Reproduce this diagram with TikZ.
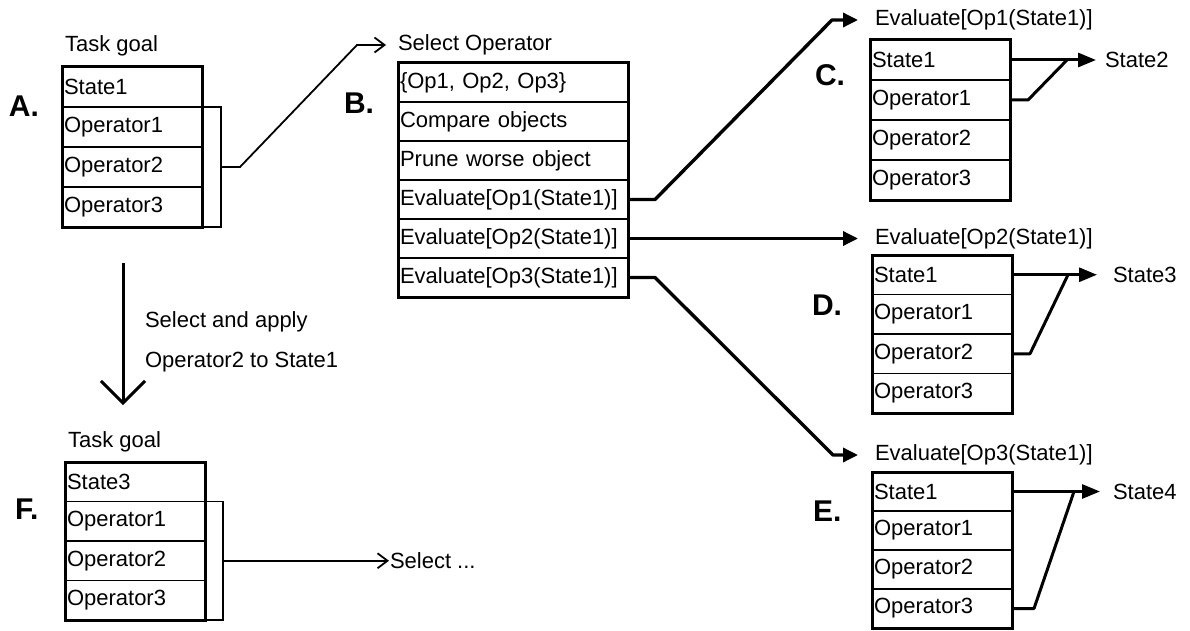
\documentclass[tikz,border=0pt]{standalone}
\usepackage{fontspec}
\setmainfont{Liberation Sans}
\usetikzlibrary{arrows.meta,calc}
\newcommand{\rf}{\fontsize{22}{26}\selectfont}
\newcommand{\lf}{\fontsize{30}{34}\selectfont\bfseries}
\begin{document}
\begin{tikzpicture}[x=1pt,y=-1pt,
  rowbox/.style={draw, line width=1.8pt, anchor=north west, minimum height=#1,
    inner xsep=2pt, inner ysep=0pt, outer sep=0pt, font=\rf, align=left, text width=136pt},
  widerow/.style={rowbox=#1, text width=226pt},
  outer/.style={line width=3pt},
  bracket/.style={line width=1.3pt},
  txt/.style={anchor=west, inner sep=0pt, outer sep=0pt, font=\rf},
  lab/.style={anchor=west, inner sep=0pt, outer sep=0pt, font=\lf},
  thinarrow/.style={line width=1.8pt, -{Straight Barb[length=10pt,width=15pt,line width=1.8pt]}},
  thickarrow/.style={line width=3.4pt, line join=round, -{Triangle[length=15pt,width=14pt]}},
  statearrow/.style={line width=3pt, -{Triangle[length=18pt,width=14pt]}},
  joinline/.style={line width=3pt, line join=round},
  bigarrow/.style={line width=3pt, -{Straight Barb[length=22pt,width=44pt,line width=3pt]}}]
\useasboundingbox (0,0) rectangle (1190,631);

% ---------- A ----------
\node[txt] (ta) at (65,46) {Task goal};
\node[lab] (la) at (9,106) {A.};
\node[rowbox=40pt] (a1) at (62,67) {State1};
\node[rowbox=40pt] (a2) at (a1.south west) {Operator1};
\node[rowbox=40pt] (a3) at (a2.south west) {Operator2};
\node[rowbox=40pt] (a4) at (a3.south west) {Operator3};
\draw[outer] (a1.north west) rectangle (a4.south east);
\draw[bracket] (a2.north east) -- ++(19,0) |- (a4.south east);
\coordinate (am) at ($(a2.north east)!0.5!(a4.south east)+(19,0)$);

% ---------- B ----------
\node[txt] (bt) at (398,45) {Select Operator};
\node[lab] (lb) at (344,103) {B.};
\node[widerow=39pt] (b1) at (398,63) {\{Op1, Op2, Op3\}};
\node[widerow=39pt] (b2) at (b1.south west) {Compare objects};
\node[widerow=39pt] (b3) at (b2.south west) {Prune worse object};
\node[widerow=39pt] (b4) at (b3.south west) {Evaluate[Op1(State1)]};
\node[widerow=39pt] (b5) at (b4.south west) {Evaluate[Op2(State1)]};
\node[widerow=39pt] (b6) at (b5.south west) {Evaluate[Op3(State1)]};
\draw[outer] (b1.north west) rectangle (b6.south east);

\draw[thinarrow] (am) -- ++(19,0) -- ($(bt.west)+(-41,0)$) -- ([xshift=-12pt]bt.west);

% ---------- C ----------
\node[txt] (ct) at (875,20) {Evaluate[Op1(State1)]};
\node[lab] (lc) at (815,75) {C.};
\node[rowbox=40pt] (c1) at (870,40) {State1};
\node[rowbox=40pt] (c2) at (c1.south west) {Operator1};
\node[rowbox=40pt] (c3) at (c2.south west) {Operator2};
\node[rowbox=40pt] (c4) at (c3.south west) {Operator3};
\draw[outer] (c1.north west) rectangle (c4.south east);
\node[txt] (s2) at (1105,60) {State2};
\draw[statearrow] (c1.east) -- ([xshift=-9pt]s2.west);
\draw[joinline] (c2.east) -- ++(18,0) -- ($(c1.east)+(57,0)$);

% ---------- D ----------
\node[txt] (dt) at (875,238.5) {Evaluate[Op2(State1)]};
\node[lab] (ld) at (812,305) {D.};
\node[rowbox=39.5pt] (d1) at (872,255) {State1};
\node[rowbox=39.5pt] (d2) at (d1.south west) {Operator1};
\node[rowbox=39.5pt] (d3) at (d2.south west) {Operator2};
\node[rowbox=39.5pt] (d4) at (d3.south west) {Operator3};
\draw[outer] (d1.north west) rectangle (d4.south east);
\node[txt] (s3) at (1113,274.75) {State3};
\draw[statearrow] (d1.east) -- ([xshift=-16pt]s3.west);
\draw[joinline] (d3.east) -- ++(18,0) -- ($(d1.east)+(56,0)$);

% ---------- E ----------
\node[txt] (et) at (875,455) {Evaluate[Op3(State1)]};
\node[lab] (le) at (813,511) {E.};
\node[rowbox=39pt] (e1) at (872,472) {State1};
\node[rowbox=39pt] (e2) at (e1.south west) {Operator1};
\node[rowbox=39pt] (e3) at (e2.south west) {Operator2};
\node[rowbox=39pt] (e4) at (e3.south west) {Operator3};
\draw[outer] (e1.north west) rectangle (e4.south east);
\node[txt] (s4) at (1113,491.5) {State4};
\draw[statearrow] (e1.east) -- ([xshift=-13pt]s4.west);
\draw[joinline] (e4.east) -- ++(22,0) -- ($(e1.east)+(62,0)$);

% ---------- B to C, D, E ----------
\draw[thickarrow] (b4.east) -- ++(27,0) -- ($(ct.west)+(-43,0)$) -- ([xshift=-17pt]ct.west);
\draw[thickarrow] (b5.east) -- ([xshift=-17pt]dt.west);
\draw[thickarrow] (b6.east) -- ++(27,0) -- ($(et.west)+(-42,0)$) -- ([xshift=-17pt]et.west);

% ---------- down arrow ----------
\coordinate (dtop) at (123,263);
\coordinate (dbot) at (123,405);
\draw[bigarrow] (dtop) -- (dbot);
\node[txt] (sa1) at (145,322) {Select and apply};
\node[txt] (sa2) at (145,362) {Operator2 to State1};

% ---------- F ----------
\node[txt] (tf) at (68,442) {Task goal};
\node[lab] (lf) at (15,509) {F.};
\node[rowbox=39.5pt] (f1) at (65,462) {State3};
\node[rowbox=39.5pt] (f2) at (f1.south west) {Operator1};
\node[rowbox=39.5pt] (f3) at (f2.south west) {Operator2};
\node[rowbox=39.5pt] (f4) at (f3.south west) {Operator3};
\draw[outer] (f1.north west) rectangle (f4.south east);
\draw[bracket] (f2.north east) -- ++(18,0) |- (f4.south east);
\coordinate (fm) at ($(f3.east)+(18,0)$);
\node[txt] (sel) at (390,560.75) {Select ...};
\draw[thinarrow] (fm) -- ([xshift=-1pt]sel.west);
\end{tikzpicture}
\end{document}
